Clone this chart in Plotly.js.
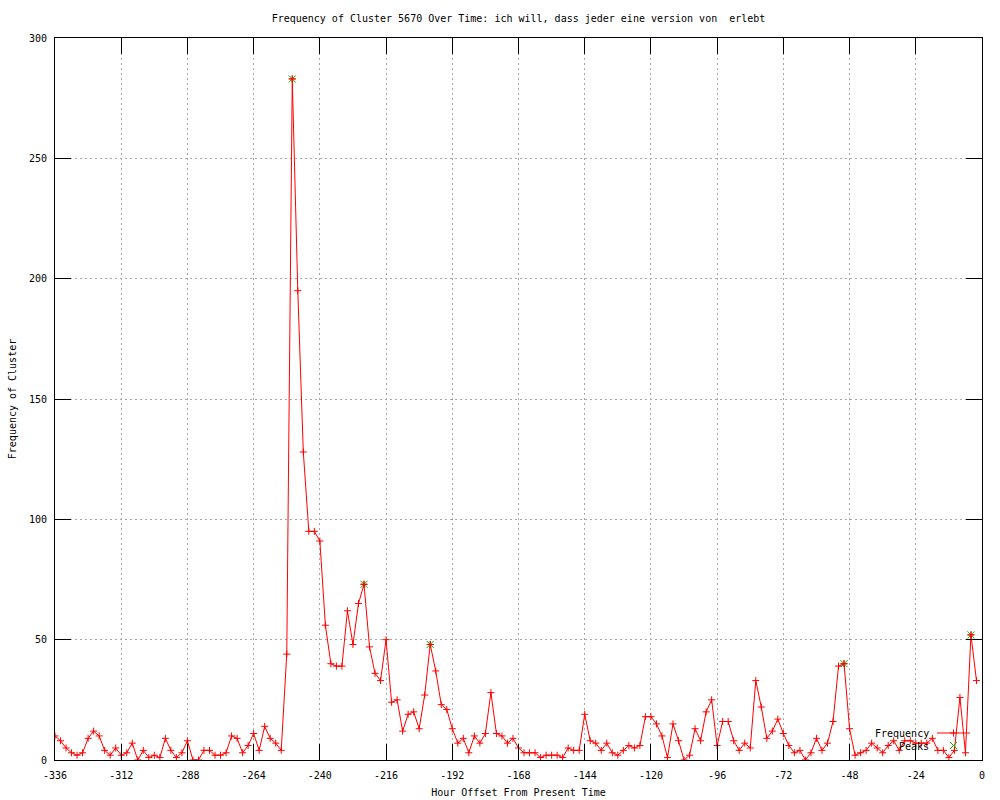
<!DOCTYPE html>
<html>
<head>
<meta charset="utf-8">
<script src="https://cdn.plot.ly/plotly-3.0.1.min.js"></script>
<style>
  html, body { margin: 0; padding: 0; background: #fff; }
  #chart { width: 1000px; height: 800px; }
</style>
</head>
<body>
<div id="chart"></div>
<script>
// Hour offsets (every 2 hours) and observed frequencies
const hours = [
  -336,-334,-332,-330,-328,-326,-324,-322,-320,-318,-316,-314,-312,-310,-308,-306,-304,-302,-300,-298,
  -296,-294,-292,-290,-288,-286,-284,-282,-280,-278,-276,-274,-272,-270,-268,-266,-264,-262,-260,-258,
  -256,-254,-252,-250,-248,-246,-244,-242,-240,-238,-236,-234,-232,-230,-228,-226,-224,-222,-220,-218,
  -216,-214,-212,-210,-208,-206,-204,-202,-200,-198,-196,-194,-192,-190,-188,-186,-184,-182,-180,-178,
  -176,-174,-172,-170,-168,-166,-164,-162,-160,-158,-156,-154,-152,-150,-148,-146,-144,-142,-140,-138,
  -136,-134,-132,-130,-128,-126,-124,-122,-120,-118,-116,-114,-112,-110,-108,-106,-104,-102,-100,-98,
  -96,-94,-92,-90,-88,-86,-84,-82,-80,-78,-76,-74,-72,-70,-68,-66,-64,-62,-60,-58,
  -56,-54,-52,-50,-48,-46,-44,-42,-40,-38,-36,-34,-32,-30,-28,-26,-24,-22,-20,-18,
  -16,-14,-12,-10,-8,-6,-4,-2
];
const frequency = [
  10,8,5,3,2,3,9,12,10,4,2,5,2,3,7,0,4,1,2,1,
  9,4,1,3,8,0,0,4,4,2,2,3,10,9,3,6,11,4,14,9,
  7,4,44,283,195,128,95,95,91,56,40,39,39,62,48,65,73,47,36,33,
  50,24,25,12,19,20,13,27,48,37,23,21,13,7,9,3,10,7,11,28,
  11,10,7,9,5,3,3,3,1,2,2,2,1,5,4,4,19,8,7,4,
  7,3,2,4,6,5,6,18,18,15,10,1,15,8,0,2,13,8,20,25,
  6,16,16,8,4,7,5,33,22,9,12,17,11,6,3,4,0,3,9,4,
  7,16,39,40,13,2,3,4,7,5,3,6,8,4,8,8,7,7,7,9,
  4,4,1,4,26,3,52,33
];
// Detected peaks
const peakHours = [-250, -224, -200, -50, -4];
const peakValues = [283, 73, 48, 40, 52];

const xTicks = [-336,-312,-288,-264,-240,-216,-192,-168,-144,-120,-96,-72,-48,-24,0];
const yTicks = [0,50,100,150,200,250,300];

const FONT = 'DejaVu Sans Mono, Liberation Mono, monospace';
const RED = '#ff0000';
const GREEN = '#00b000';

const traces = [
  {
    x: hours, y: frequency, type: 'scatter', mode: 'lines+markers', name: 'Frequency',
    line: {color: RED, width: 1},
    marker: {symbol: 'cross-thin-open', size: 5, color: RED, line: {color: RED, width: 1}},
    showlegend: false, hoverinfo: 'none'
  },
  {
    x: peakHours, y: peakValues, type: 'scatter', mode: 'markers', name: 'Peaks',
    marker: {symbol: 'x-thin-open', size: 7, color: GREEN, line: {color: GREEN, width: 1}},
    showlegend: false, hoverinfo: 'none'
  },
  {
    x: peakHours, y: peakValues, type: 'scatter', mode: 'markers', name: 'Peaks overlay',
    marker: {symbol: 'cross-thin-open', size: 5, color: RED, line: {color: RED, width: 1}},
    showlegend: false, hoverinfo: 'none'
  }
];

// paper-coordinate helpers for the hand-drawn key (gnuplot style)
const L = 55, R = 982, T = 38, B = 760;
const px = v => (v - L) / (R - L);
const py = v => (B - v) / (B - T);

const shapes = [
  {type: 'line', xref: 'paper', yref: 'paper', x0: px(937), x1: px(970), y0: py(733), y1: py(733), line: {color: RED, width: 1}},
  {type: 'line', xref: 'paper', yref: 'paper', x0: px(950), x1: px(957), y0: py(733), y1: py(733), line: {color: RED, width: 1}},
  {type: 'line', xref: 'paper', yref: 'paper', x0: px(953.5), x1: px(953.5), y0: py(729.5), y1: py(736.5), line: {color: RED, width: 1}},
  {type: 'line', xref: 'paper', yref: 'paper', x0: px(950), x1: px(957), y0: py(742), y1: py(749), line: {color: GREEN, width: 1}},
  {type: 'line', xref: 'paper', yref: 'paper', x0: px(950), x1: px(957), y0: py(749), y1: py(742), line: {color: GREEN, width: 1}}
];

const annotations = [
  {text: 'Frequency', xref: 'paper', yref: 'paper', x: px(931), y: py(733), xanchor: 'right', yanchor: 'middle', showarrow: false, font: {family: FONT, size: 10, color: '#000'}},
  {text: 'Peaks', xref: 'paper', yref: 'paper', x: px(931), y: py(746), xanchor: 'right', yanchor: 'middle', showarrow: false, font: {family: FONT, size: 10, color: '#000'}}
];

const axisCommon = {
  showline: true, linecolor: '#000', linewidth: 1, mirror: 'allticks',
  ticks: 'inside', ticklen: 16, tickwidth: 1, tickcolor: '#000',
  showgrid: true, gridcolor: '#a8a8a8', griddash: '2px,3px', gridwidth: 1,
  zeroline: false, tickfont: {family: FONT, size: 10, color: '#000'},
  fixedrange: true
};

const layout = {
  width: 1000, height: 800,
  margin: {l: 55, r: 18, t: 38, b: 40},
  paper_bgcolor: '#fff', plot_bgcolor: '#fff',
  font: {family: FONT, size: 10, color: '#000'},
  title: {text: 'Frequency of Cluster 5670 Over Time: ich will, dass jeder eine version von\u00a0 erlebt',
          x: 0.5, xref: 'paper', xanchor: 'center', y: 1 - 18/800, yref: 'container', yanchor: 'middle',
          font: {family: FONT, size: 10, color: '#000'}},
  xaxis: Object.assign({}, axisCommon, {
    range: [-336, 0], tickmode: 'array', tickvals: xTicks, ticktext: xTicks.map(String),
    ticklabelstandoff: 6,
    title: {text: 'Hour Offset From Present Time', standoff: 8, font: {family: FONT, size: 10, color: '#000'}}
  }),
  yaxis: Object.assign({}, axisCommon, {
    range: [0, 300], tickmode: 'array', tickvals: yTicks, ticktext: yTicks.map(String),
    ticklabelstandoff: 5,
    title: {text: 'Frequency of Cluster', standoff: 10, font: {family: FONT, size: 10, color: '#000'}}
  }),
  showlegend: false,
  shapes: shapes,
  annotations: annotations,
  hovermode: false
};

Plotly.newPlot('chart', traces, layout, {displayModeBar: false, staticPlot: true});
</script>
</body>
</html>
